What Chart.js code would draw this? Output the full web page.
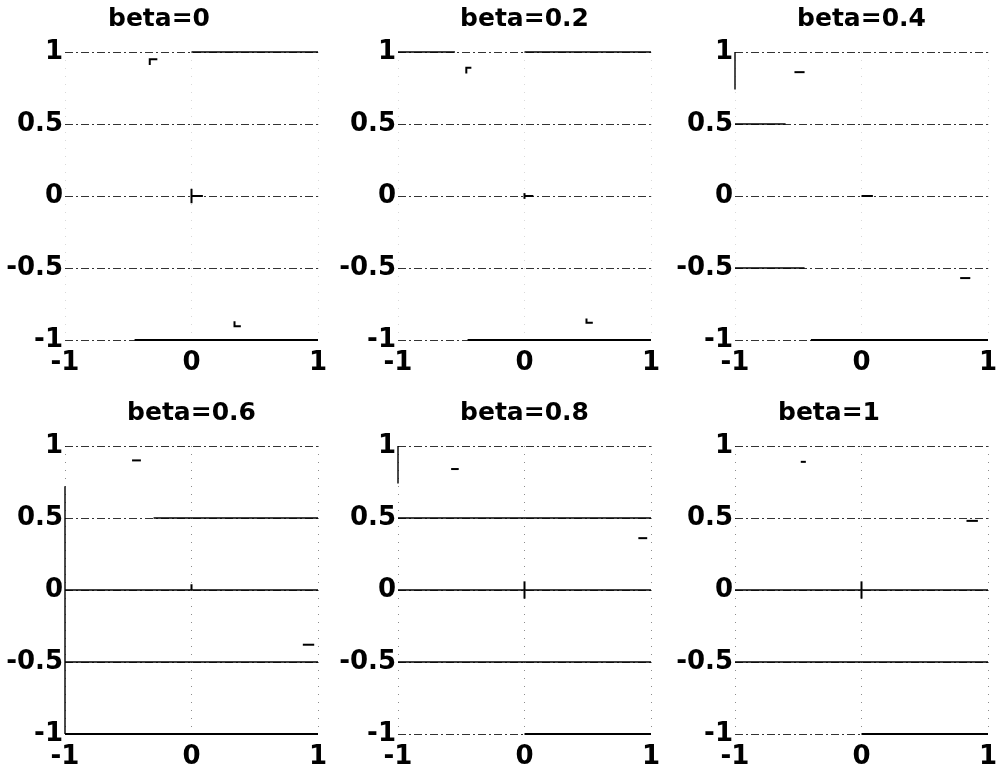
<!DOCTYPE html>
<html>
<head>
<meta charset="utf-8">
<script src="https://cdn.jsdelivr.net/npm/chart.js@4.4.0/dist/chart.umd.min.js"></script>
<style>
  html, body { margin: 0; padding: 0; background: #fff; }
  #wrap { position: relative; width: 998px; height: 773px; overflow: hidden; }
  .panel { position: absolute; width: 336px; height: 379px; }
</style>
</head>
<body>
<div id="wrap">
  <div class="panel" style="left:0px;top:0px"><canvas id="c0"></canvas></div>
  <div class="panel" style="left:333px;top:0px"><canvas id="c1"></canvas></div>
  <div class="panel" style="left:670px;top:0px"><canvas id="c2"></canvas></div>
  <div class="panel" style="left:0px;top:394px"><canvas id="c3"></canvas></div>
  <div class="panel" style="left:333px;top:394px"><canvas id="c4"></canvas></div>
  <div class="panel" style="left:670px;top:394px"><canvas id="c5"></canvas></div>
</div>
<script>
// Panel titles and axis ticks
const titles = ['beta=0', 'beta=0.2', 'beta=0.4', 'beta=0.6', 'beta=0.8', 'beta=1'];
const xTicks = [-1, 0, 1];
const yTicks = [-1, -0.5, 0, 0.5, 1];

// Small quiver marks (polylines, data units) per panel
const marksBeta0 = [
    [[-0.33, 0.91], [-0.33, 0.95], [-0.27, 0.95]],
    [[0, -0.05], [0, 0.05]],
    [[0, 0], [0.09, 0]],
    [[0.34, -0.87], [0.34, -0.905], [0.39, -0.905]]
];
const marksBeta02 = [
    [[-0.46, 0.85], [-0.46, 0.89], [-0.42, 0.89]],
    [[0, -0.02], [0, 0.02]],
    [[0, 0], [0.07, 0]],
    [[0.49, -0.85], [0.49, -0.88], [0.54, -0.88]]
];
const marksBeta04 = [
    [[-0.53, 0.86], [-0.45, 0.86]],
    [[0, 0], [0.09, 0]],
    [[0.78, -0.57], [0.86, -0.57]]
];
const marksBeta06 = [
    [[-0.47, 0.9], [-0.4, 0.9]],
    [[0, 0], [0, 0.04]],
    [[0.88, -0.38], [0.97, -0.38]]
];
const marksBeta08 = [
    [[-0.58, 0.84], [-0.52, 0.84]],
    [[0.9, 0.36], [0.97, 0.36]],
    [[0, -0.06], [0, 0.06]]
];
const marksBeta1 = [
    [[-0.48, 0.89], [-0.44, 0.89]],
    [[0.83, 0.48], [0.92, 0.48]],
    [[0, -0.06], [0, 0.06]]
];

// Solid stretches of the reference lines and axis edges per panel
const solidBeta0 = [
    [[0, 1], [1, 1]],
    [[-0.45, -1], [1, -1]]
];
const solidBeta02 = [
    [[-1, 1], [-0.55, 1]],
    [[0, 1], [1, 1]],
    [[-0.45, -1], [1, -1]]
];
const solidBeta04 = [
    [[-1, 0.5], [-0.6, 0.5]],
    [[-1, -0.5], [-0.45, -0.5]],
    [[-0.4, -1], [1, -1]],
    [[-1, 1], [-1, 0.74]]
];
const solidBeta06 = [
    [[-0.3, 0.5], [1, 0.5]],
    [[-1, 0], [1, 0]],
    [[-1, -0.5], [1, -0.5]],
    [[-1, -1], [1, -1]],
    [[-1, 0.72], [-1, -1]]
];
const solidBeta08 = [
    [[-1, 0.5], [1, 0.5]],
    [[-1, 0], [1, 0]],
    [[-1, -0.5], [1, -0.5]],
    [[0, -1], [1, -1]],
    [[-1, 1], [-1, 0.74]]
];
const solidBeta1 = [
    [[-1, 0], [1, 0]],
    [[-1, -0.5], [1, -0.5]],
    [[0, -1], [1, -1]]
];

const marks = [marksBeta0, marksBeta02, marksBeta04, marksBeta06, marksBeta08, marksBeta1];
const solids = [solidBeta0, solidBeta02, solidBeta04, solidBeta06, solidBeta08, solidBeta1];

// outer panels have their title centred on the whole panel, not the plot
const titleFullWidth = [true, false, false, false, false, true];

const FONT = "'DejaVu Sans', sans-serif";

function toDataset(line, width) {
    // the bottom edge line is drawn a little heavier
    const onBottom = line.every(p => p[1] === -1);
    return {
        data: line.map(p => ({ x: p[0], y: p[1] })),
        showLine: true,
        clip: 4,
        borderColor: '#000',
        backgroundColor: '#000',
        borderWidth: onBottom ? 2.2 : width,
        pointRadius: 0,
        pointHoverRadius: 0
    };
}

document.addEventListener('DOMContentLoaded', function() {
    titles.forEach((title, i) => {
        const bottomRow = i >= 3;
        const datasets = solids[i].map(s => toDataset(s, 1.4))
            .concat(marks[i].map(m => toDataset(m, 2)));

        new Chart(document.getElementById('c' + i), {
            type: 'scatter',
            data: { datasets: datasets },
            options: {
                responsive: true,
                maintainAspectRatio: false,
                animation: false,
                layout: { padding: { left: 0, right: 18, top: 0, bottom: 0 } },
                plugins: {
                    legend: { display: false },
                    tooltip: { enabled: false },
                    title: {
                        display: true,
                        text: title,
                        fullSize: titleFullWidth[i],
                        color: '#000',
                        font: { family: FONT, size: 25, weight: 'bold', lineHeight: 1.2 },
                        padding: { top: 4, bottom: 18 }
                    }
                },
                scales: {
                    x: {
                        type: 'linear',
                        min: -1,
                        max: 1,
                        afterBuildTicks: scale => { scale.ticks = xTicks.map(v => ({ value: v })); },
                        afterFit: scale => {
                            scale.height = 39;
                            scale.paddingLeft = 0;
                            scale.paddingRight = 0;
                        },
                        grid: {
                            color: bottomRow ? 'rgba(0,0,0,0.45)' : 'rgba(0,0,0,0.15)',
                            lineWidth: 1,
                            drawTicks: false
                        },
                        border: { display: false, dash: [1, 7] },
                        ticks: {
                            color: '#000',
                            padding: 8,
                            maxRotation: 0,
                            callback: value => String(value),
                            font: { family: FONT, size: 26, weight: 'bold' }
                        }
                    },
                    y: {
                        type: 'linear',
                        min: -1,
                        max: 1,
                        afterBuildTicks: scale => { scale.ticks = yTicks.map(v => ({ value: v })); },
                        afterFit: scale => { scale.width = 65; },
                        grid: {
                            color: 'rgba(0,0,0,0.8)',
                            lineWidth: 1,
                            drawTicks: false
                        },
                        border: { display: false, dash: [8, 3, 2, 3] },
                        ticks: {
                            color: '#000',
                            padding: 2,
                            callback: value => String(value),
                            font: { family: FONT, size: 26, weight: 'bold' }
                        }
                    }
                }
            }
        });
    });
});
</script>
</body>
</html>
